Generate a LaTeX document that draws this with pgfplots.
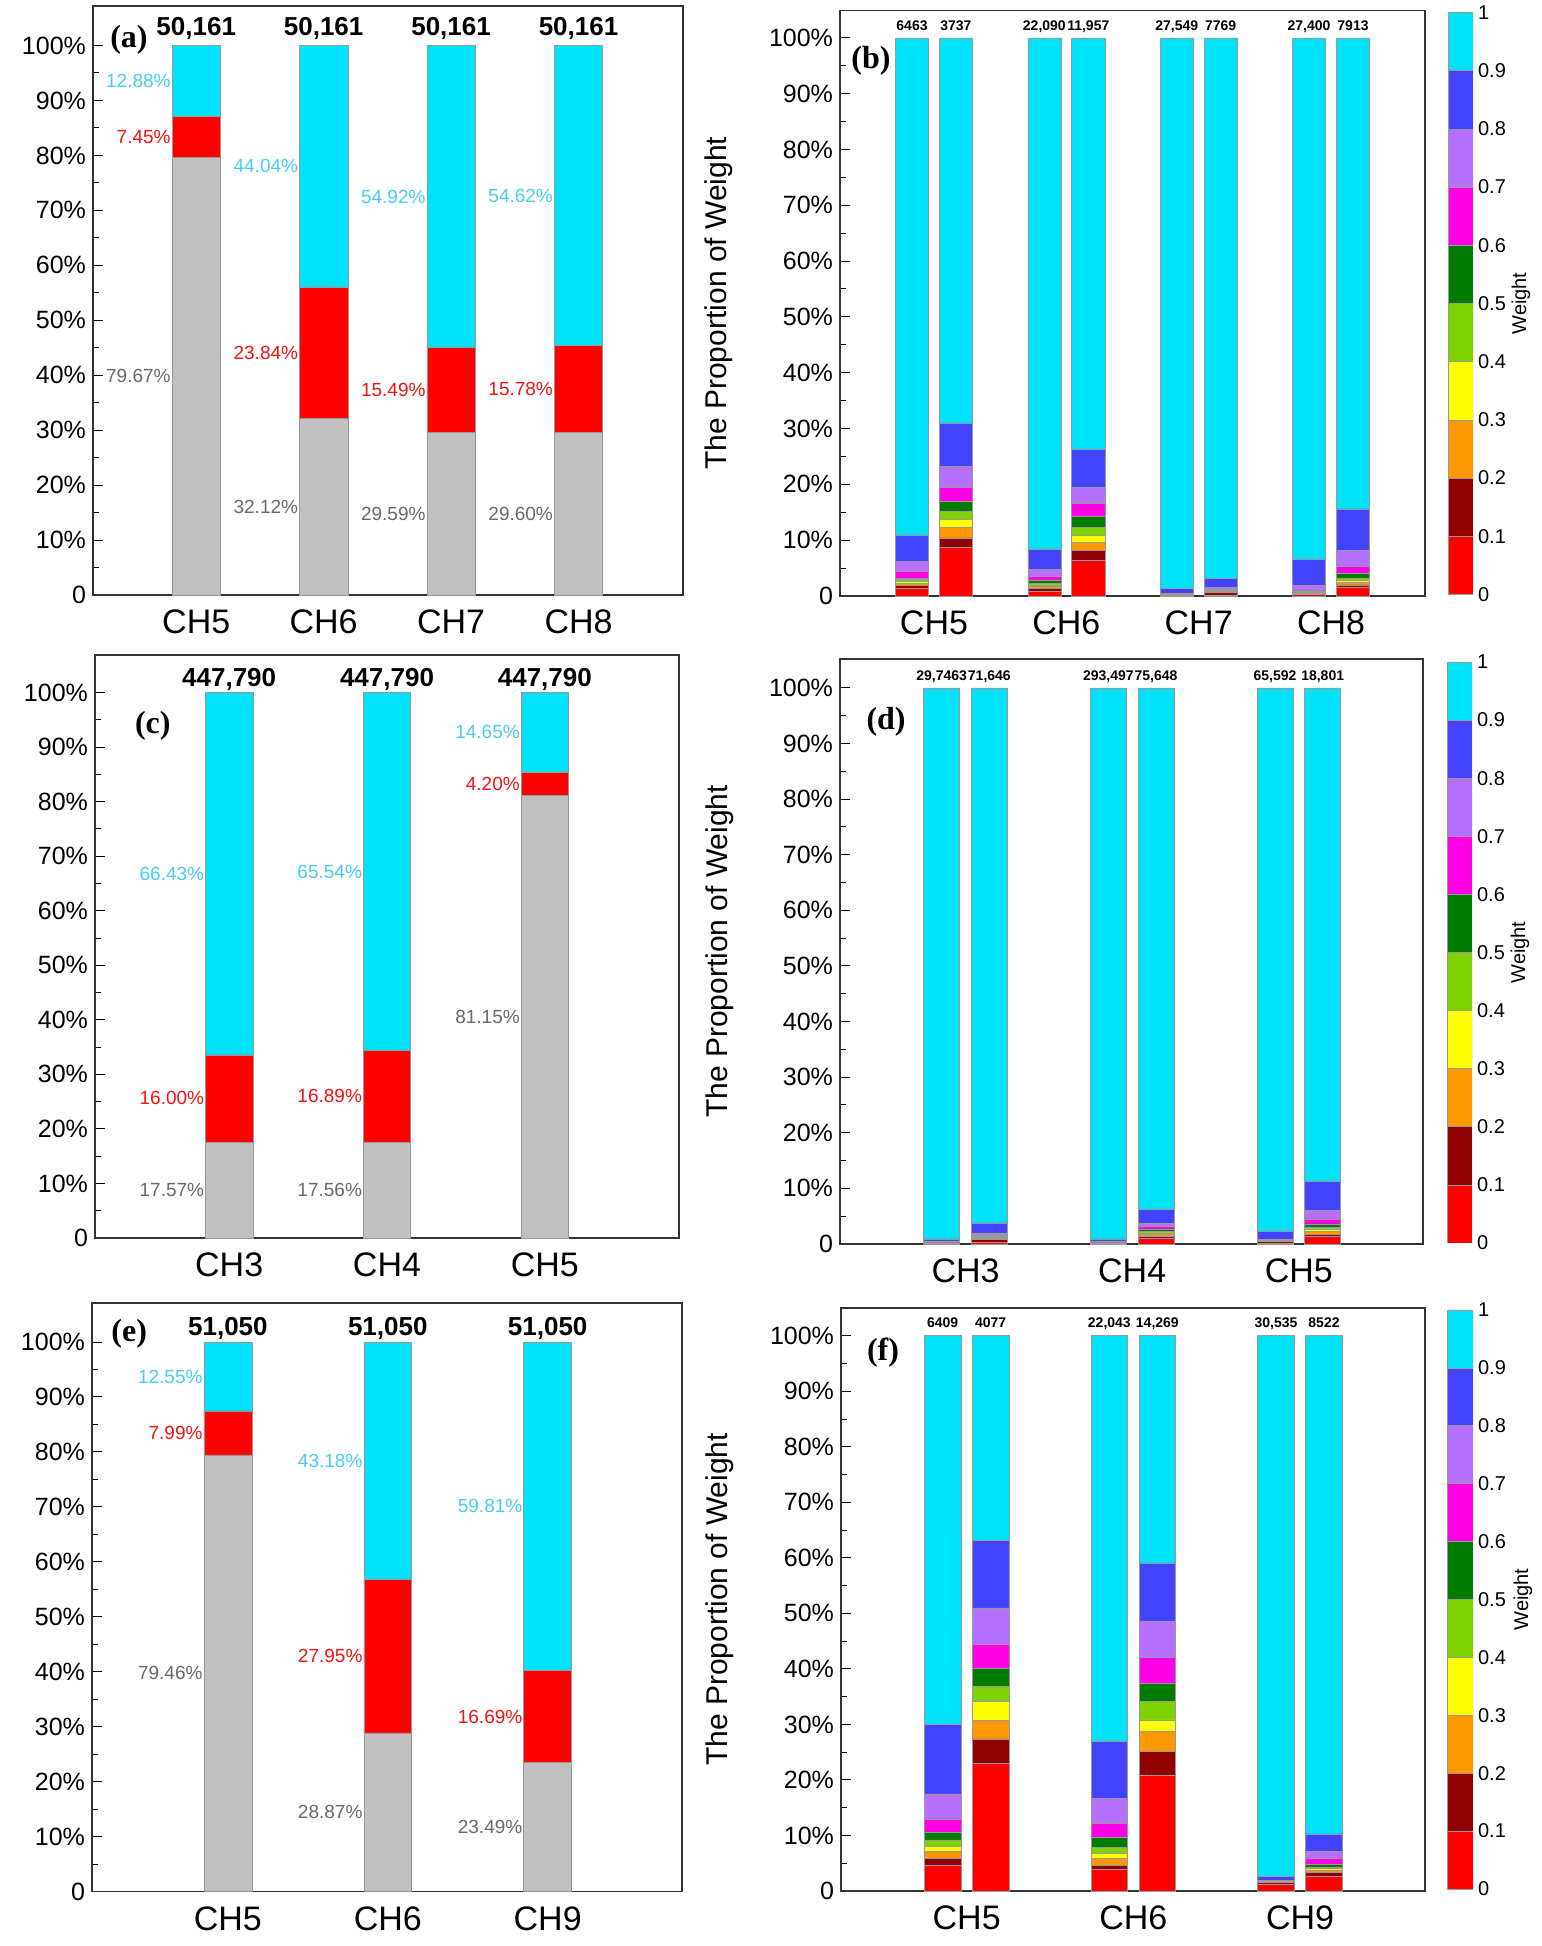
\documentclass[border=0pt]{standalone}
\usepackage{pgfplots}
\pgfplotsset{compat=1.18}
\usepackage{fontspec}
\setmainfont{Liberation Sans}
\newfontfamily\tnr{Liberation Serif}
\definecolor{cR}{RGB}{255,0,0}
\definecolor{cDR}{RGB}{145,0,0}
\definecolor{cO}{RGB}{255,152,0}
\definecolor{cY}{RGB}{255,255,0}
\definecolor{cYG}{RGB}{125,210,0}
\definecolor{cG}{RGB}{0,122,0}
\definecolor{cM}{RGB}{255,0,230}
\definecolor{cP}{RGB}{182,112,255}
\definecolor{cB}{RGB}{66,66,255}
\definecolor{cC}{RGB}{0,225,250}
\definecolor{cGr}{RGB}{192,192,192}
\definecolor{tC}{RGB}{70,205,240}
\definecolor{tR}{RGB}{240,20,20}
\definecolor{tG}{RGB}{105,105,105}
\newcommand{\seg}[2]{\addplot[fill=#1,draw=black!40,line width=0.3pt] coordinates {#2};}
\newcommand{\pl}[4]{\node[anchor=east,inner sep=0.5pt,text=#1,font=\fontsize{9.5}{11}\selectfont] at (axis cs:#2,#3) {#4};}
\newcommand{\tlb}[3]{\node[anchor=base,font=\bfseries\fontsize{13}{15}\selectfont,inner sep=0pt] at (axis cs:#1,#2) {#3};}
\newcommand{\tls}[2]{\node[anchor=base,font=\bfseries\fontsize{7}{8}\selectfont,inner sep=0pt] at (axis cs:#1,101.4) {#2};}
\pgfplotsset{
 base/.style={scale only axis, anchor=south west, ybar stacked, ymin=0,
   ytick={0,10,...,100}, yticklabels={0,10\%,20\%,30\%,40\%,50\%,60\%,70\%,80\%,90\%,100\%},
   minor y tick num=1, ytick pos=left, tick align=inside, major tick length=5pt, minor tick length=3pt,
   xtick style={draw=none}, tick style={black, line width=0.5pt},
   axis line style={line width=0.7pt, black!80},
   yticklabel style={font=\fontsize{12.5}{14}\selectfont},
   xticklabel style={font=\fontsize{17}{19}\selectfont, yshift=-4pt},
   clip=false},
 rp/.style={base, ylabel={The Proportion of Weight},
   ylabel style={at={(axis description cs:-0.207,0.5)}, anchor=center, font=\fontsize{15}{17}\selectfont}},
 cb/.style={scale only axis, anchor=south west, ybar stacked, bar width=1, xmin=-0.5, xmax=0.5, ymin=0, ymax=1,
   ytick={0,0.1,...,1.01}, yticklabels={0,0.1,0.2,0.3,0.4,0.5,0.6,0.7,0.8,0.9,1},
   yticklabel pos=right, xtick=\empty, tick style={draw=none}, axis line style={draw=none},
   yticklabel style={font=\fontsize{10}{12}\selectfont, xshift=-1pt},
   ylabel={Weight}, ylabel style={at={(axis description cs:2.92,0.5)}, anchor=center, rotate=0, font=\fontsize{10}{12}\selectfont}},
}
\newcommand{\colorbar}{%
 \seg{cR}{(0,0.1)}\seg{cDR}{(0,0.1)}\seg{cO}{(0,0.1)}\seg{cY}{(0,0.1)}\seg{cYG}{(0,0.1)}%
 \seg{cG}{(0,0.1)}\seg{cM}{(0,0.1)}\seg{cP}{(0,0.1)}\seg{cB}{(0,0.1)}\seg{cC}{(0,0.1)}}
\begin{document}
\begin{tikzpicture}
\path[use as bounding box] (0,0) rectangle (770.5pt,973pt);
% ---------------- (a)
\begin{axis}[base, at={(46.5pt,675.5pt)}, width=295pt, height=294.5pt,
  xmin=-0.81, xmax=3.82, ymax=107.2, bar width=0.38,
  xtick={0,1,2,3}, xticklabels={CH5,CH6,CH7,CH8}]
\seg{cGr}{(0,79.67)(1,32.12)(2,29.59)(3,29.60)}
\seg{cR}{(0,7.45)(1,23.84)(2,15.49)(3,15.78)}
\seg{cC}{(0,12.88)(1,44.04)(2,54.92)(3,54.62)}
\pl{tC}{-0.19}{93.6}{12.88\%}\pl{tR}{-0.19}{83.4}{7.45\%}\pl{tG}{-0.19}{39.8}{79.67\%}
\pl{tC}{0.81}{78.0}{44.04\%}\pl{tR}{0.81}{44.0}{23.84\%}\pl{tG}{0.81}{16.1}{32.12\%}
\pl{tC}{1.81}{72.5}{54.92\%}\pl{tR}{1.81}{37.3}{15.49\%}\pl{tG}{1.81}{14.8}{29.59\%}
\pl{tC}{2.81}{72.7}{54.62\%}\pl{tR}{2.81}{37.5}{15.78\%}\pl{tG}{2.81}{14.8}{29.60\%}
\tlb{0}{101.8}{50,161}\tlb{1}{101.8}{50,161}\tlb{2}{101.8}{50,161}\tlb{3}{101.8}{50,161}
\node[font=\tnr\bfseries\fontsize{16}{18}\selectfont] at (rel axis cs:0.061,0.942) {(a)};
\end{axis}
% ---------------- (b)
\begin{axis}[rp, at={(420pt,675pt)}, width=292.5pt, height=292.75pt,
  xmin=-0.71, xmax=3.71, ymax=104.9, bar width=0.25,
  xtick={0,1,2,3}, xticklabels={CH5,CH6,CH7,CH8}]
\seg{cR}{(-0.166,1.3)(0.166,8.7)(0.834,0.8)(1.166,6.4)(1.834,0.1)(2.166,0.2)(2.834,0.3)(3.166,1.5)}
\seg{cDR}{(-0.166,0.6)(0.166,1.7)(0.834,0.5)(1.166,1.7)(1.834,0.05)(2.166,0.4)(2.834,0.2)(3.166,0.5)}
\seg{cO}{(-0.166,0.4)(0.166,1.9)(0.834,0.4)(1.166,1.5)(1.834,0.05)(2.166,0.1)(2.834,0.1)(3.166,0.4)}
\seg{cY}{(-0.166,0.3)(0.166,1.4)(0.834,0.3)(1.166,1.3)(1.834,0.05)(2.166,0.1)(2.834,0.1)(3.166,0.4)}
\seg{cYG}{(-0.166,0.3)(0.166,1.5)(0.834,0.3)(1.166,1.4)(1.834,0.05)(2.166,0.1)(2.834,0.1)(3.166,0.4)}
\seg{cG}{(-0.166,0.3)(0.166,1.8)(0.834,0.5)(1.166,2.0)(1.834,0.05)(2.166,0.1)(2.834,0.1)(3.166,0.8)}
\seg{cM}{(-0.166,1.2)(0.166,2.4)(0.834,0.8)(1.166,2.3)(1.834,0.05)(2.166,0.2)(2.834,0.2)(3.166,1.3)}
\seg{cP}{(-0.166,1.8)(0.166,3.8)(0.834,1.2)(1.166,2.9)(1.834,0.1)(2.166,0.3)(2.834,0.8)(3.166,2.8)}
\seg{cB}{(-0.166,4.6)(0.166,7.8)(0.834,3.6)(1.166,6.8)(1.834,0.8)(2.166,1.7)(2.834,4.7)(3.166,7.5)}
\seg{cC}{(-0.166,89.2)(0.166,69.0)(0.834,91.6)(1.166,73.7)(1.834,98.7)(2.166,96.8)(2.834,93.4)(3.166,84.4)}
\tls{-0.166}{6463}\tls{0.166}{3737}\tls{0.834}{22,090}\tls{1.166}{11,957}
\tls{1.834}{27,549}\tls{2.166}{7769}\tls{2.834}{27,400}\tls{3.166}{7913}
\node[font=\tnr\bfseries\fontsize{16}{18}\selectfont] at (rel axis cs:0.053,0.914) {(b)};
\end{axis}
\begin{axis}[cb, at={(724pt,675.75pt)}, width=12.5pt, height=291pt]
\colorbar
\end{axis}
% ---------------- (c)
\begin{axis}[base, at={(47.5pt,354pt)}, width=292pt, height=291.5pt,
  xmin=-0.85, xmax=2.85, ymax=106.9, bar width=0.30,
  xtick={0,1,2}, xticklabels={CH3,CH4,CH5}]
\seg{cGr}{(0,17.57)(1,17.56)(2,81.15)}
\seg{cR}{(0,16.00)(1,16.89)(2,4.20)}
\seg{cC}{(0,66.43)(1,65.54)(2,14.65)}
\pl{tC}{-0.15}{66.8}{66.43\%}\pl{tR}{-0.15}{25.6}{16.00\%}\pl{tG}{-0.15}{8.8}{17.57\%}
\pl{tC}{0.85}{67.2}{65.54\%}\pl{tR}{0.85}{26.0}{16.89\%}\pl{tG}{0.85}{8.8}{17.56\%}
\pl{tC}{1.85}{92.7}{14.65\%}\pl{tR}{1.85}{83.25}{4.20\%}\pl{tG}{1.85}{40.6}{81.15\%}
\tlb{0}{101.2}{447,790}\tlb{1}{101.2}{447,790}\tlb{2}{101.2}{447,790}
\node[font=\tnr\bfseries\fontsize{16}{18}\selectfont] at (rel axis cs:0.099,0.878) {(c)};
\end{axis}
% ---------------- (d)
\begin{axis}[rp, at={(420pt,351pt)}, width=291.5pt, height=292.5pt,
  xmin=-0.753, xmax=2.745, ymax=105.2, bar width=0.216,
  xtick={0,1,2}, xticklabels={CH3,CH4,CH5}]
\seg{cR}{(-0.143,0.1)(0.143,0.3)(0.857,0.1)(1.143,1.0)(1.857,0.2)(2.143,1.4)}
\seg{cDR}{(-0.143,0.1)(0.143,0.5)(0.857,0.1)(1.143,0.3)(1.857,0.2)(2.143,0.3)}
\seg{cO}{(-0.143,0.05)(0.143,0.2)(0.857,0.05)(1.143,0.4)(1.857,0.05)(2.143,0.5)}
\seg{cY}{(-0.143,0.05)(0.143,0.2)(0.857,0.05)(1.143,0.3)(1.857,0.05)(2.143,0.5)}
\seg{cYG}{(-0.143,0.05)(0.143,0.1)(0.857,0.05)(1.143,0.3)(1.857,0.05)(2.143,0.3)}
\seg{cG}{(-0.143,0.05)(0.143,0.2)(0.857,0.05)(1.143,0.4)(1.857,0.05)(2.143,0.6)}
\seg{cM}{(-0.143,0.05)(0.143,0.2)(0.857,0.05)(1.143,0.5)(1.857,0.1)(2.143,0.9)}
\seg{cP}{(-0.143,0.05)(0.143,0.3)(0.857,0.05)(1.143,0.5)(1.857,0.1)(2.143,1.5)}
\seg{cB}{(-0.143,0.4)(0.143,1.8)(0.857,0.4)(1.143,2.5)(1.857,1.4)(2.143,5.3)}
\seg{cC}{(-0.143,99.1)(0.143,96.2)(0.857,99.1)(1.143,93.8)(1.857,97.8)(2.143,88.7)}
\tls{-0.143}{29,7463}\tls{0.143}{71,646}\tls{0.857}{293,497}\tls{1.143}{75,648}\tls{1.857}{65,592}\tls{2.143}{18,801}
\node[font=\tnr\bfseries\fontsize{16}{18}\selectfont] at (rel axis cs:0.079,0.892) {(d)};
\end{axis}
\begin{axis}[cb, at={(723.5pt,351.5pt)}, width=12.5pt, height=290.5pt]
\colorbar
\end{axis}
% ---------------- (e)
\begin{axis}[base, at={(46pt,27.25pt)}, width=295pt, height=294.25pt,
  xmin=-0.85, xmax=2.84, ymax=107.1, bar width=0.30,
  xtick={0,1,2}, xticklabels={CH5,CH6,CH9}]
\seg{cGr}{(0,79.46)(1,28.87)(2,23.49)}
\seg{cR}{(0,7.99)(1,27.95)(2,16.69)}
\seg{cC}{(0,12.55)(1,43.18)(2,59.81)}
\pl{tC}{-0.15}{93.7}{12.55\%}\pl{tR}{-0.15}{83.5}{7.99\%}\pl{tG}{-0.15}{39.7}{79.46\%}
\pl{tC}{0.85}{78.4}{43.18\%}\pl{tR}{0.85}{42.85}{27.95\%}\pl{tG}{0.85}{14.4}{28.87\%}
\pl{tC}{1.85}{70.1}{59.81\%}\pl{tR}{1.85}{31.8}{16.69\%}\pl{tG}{1.85}{11.7}{23.49\%}
\tlb{0}{101.2}{51,050}\tlb{1}{101.2}{51,050}\tlb{2}{101.2}{51,050}
\node[font=\tnr\bfseries\fontsize{16}{18}\selectfont] at (rel axis cs:0.063,0.947) {(e)};
\end{axis}
% ---------------- (f)
\begin{axis}[rp, at={(420.5pt,27.5pt)}, width=292pt, height=291.5pt,
  xmin=-0.754, xmax=2.75, ymax=105.0, bar width=0.219,
  xtick={0,1,2}, xticklabels={CH5,CH6,CH9}]
\seg{cR}{(-0.144,4.6)(0.144,23.0)(0.856,3.9)(1.144,20.9)(1.856,1.2)(2.144,2.7)}
\seg{cDR}{(-0.144,1.2)(0.144,4.4)(0.856,0.7)(1.144,4.2)(1.856,0.4)(2.144,0.6)}
\seg{cO}{(-0.144,1.3)(0.144,3.3)(0.856,1.3)(1.144,3.7)(1.856,0.05)(2.144,0.4)}
\seg{cY}{(-0.144,1.0)(0.144,3.4)(0.856,0.8)(1.144,2.0)(1.856,0.05)(2.144,0.3)}
\seg{cYG}{(-0.144,1.1)(0.144,2.8)(0.856,1.2)(1.144,3.3)(1.856,0.05)(2.144,0.2)}
\seg{cG}{(-0.144,1.3)(0.144,3.2)(0.856,1.7)(1.144,3.3)(1.856,0.05)(2.144,0.6)}
\seg{cM}{(-0.144,2.5)(0.144,4.4)(0.856,2.6)(1.144,4.6)(1.856,0.05)(2.144,1.0)}
\seg{cP}{(-0.144,4.5)(0.144,6.5)(0.856,4.5)(1.144,6.5)(1.856,0.1)(2.144,1.3)}
\seg{cB}{(-0.144,12.5)(0.144,12.2)(0.856,10.3)(1.144,10.6)(1.856,0.75)(2.144,3.2)}
\seg{cC}{(-0.144,70.0)(0.144,36.8)(0.856,73.0)(1.144,40.9)(1.856,97.3)(2.144,89.7)}
\tls{-0.144}{6409}\tls{0.144}{4077}\tls{0.856}{22,043}\tls{1.144}{14,269}\tls{1.856}{30,535}\tls{2.144}{8522}
\node[font=\tnr\bfseries\fontsize{16}{18}\selectfont] at (rel axis cs:0.072,0.923) {(f)};
\end{axis}
\begin{axis}[cb, at={(723.5pt,28.5pt)}, width=13pt, height=289.5pt]
\colorbar
\end{axis}
\end{tikzpicture}
\end{document}
